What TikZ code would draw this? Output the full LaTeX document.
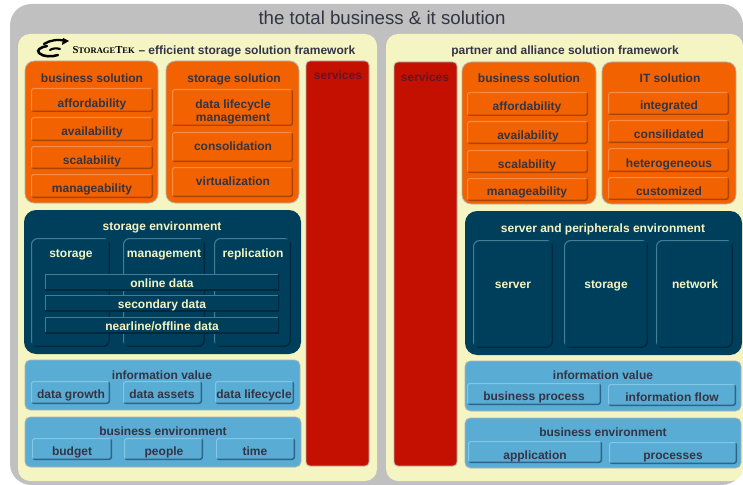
\documentclass[tikz,border=0pt]{standalone}
\usepackage{fontspec}
\setmainfont{Liberation Sans}
\newfontfamily\logofont{Liberation Serif}
\usepackage{tikz}
\definecolor{shellgray}{RGB}{192,192,192}
\definecolor{creamy}{RGB}{245,245,195}
\definecolor{orng}{RGB}{242,98,0}
\definecolor{orngl}{RGB}{250,140,70}
\definecolor{orngd}{RGB}{170,68,0}
\definecolor{crimson}{RGB}{195,16,0}
\definecolor{navy}{RGB}{0,63,92}
\definecolor{navyl}{RGB}{70,125,150}
\definecolor{navyd}{RGB}{0,40,62}
\definecolor{skyb}{RGB}{89,172,211}
\definecolor{skyl}{RGB}{130,200,230}
\definecolor{skyd}{RGB}{45,100,135}
\definecolor{inkdark}{RGB}{52,52,68}
\definecolor{inkred}{RGB}{100,22,40}
\tikzset{every picture/.style={line width=0.75pt}}
\tikzset{
  bevel/.style 2 args={path picture={
    \draw [#1,line width=1.6pt] (path picture bounding box.south west) -- (path picture bounding box.north west) -- (path picture bounding box.north east);
    \draw [#2,line width=2.2pt] (path picture bounding box.north east) -- (path picture bounding box.south east) -- (path picture bounding box.south west);}},
  panel/.style={rounded corners=7pt,draw=black!30,line width=0.6pt},
  orange btn/.style={rounded corners=2pt,fill=orng,bevel={orngl}{orngd}},
  sky btn/.style={rounded corners=2pt,fill=skyb,bevel={skyl}{skyd}},
  navy btn/.style={rounded corners=5pt,fill=navy,bevel={navyl}{navyd}},
  row btn/.style={fill=navy,bevel={navyl}{navyd}},
  dark lbl/.style={font=\fontsize{9}{10}\selectfont\bfseries,text=inkdark,inner sep=0.75pt,align=center,text height=8pt,text depth=1.5pt},
  light lbl/.style={font=\fontsize{9}{10}\selectfont\bfseries,text=creamy,inner sep=0.75pt,align=center,text height=8pt,text depth=1.5pt}
}

\begin{document}
\begin{tikzpicture}[x=0.75pt,y=0.75pt,yscale=-1,xscale=1]
\useasboundingbox (0,0) rectangle (743,485);

%Shape: Outer shell
\fill [shellgray,rounded corners=16pt] (10,4) -- (743,4) -- (743,485) -- (10,485) -- cycle ;
%Shape: Frameworks
\fill [creamy,rounded corners=9pt] (18,34) rectangle (377,481);
\fill [creamy,rounded corners=9pt] (386,34) rectangle (743,481);

%Shape: Logo swoosh
\draw [line width=1.7pt,line cap=round] (44,44) .. controls (50,40) and (58,39) .. (66,41);
\draw [line width=1.9pt,line cap=round] (47,46) .. controls (41,47) and (36,50) .. (39,53) .. controls (43,57) and (52,57) .. (58,55);
\draw [line width=1.6pt,line cap=round] (50,50) .. controls (53,48) and (57,48) .. (60,49);
\fill (63,38) -- (69,41) -- (62,45) -- cycle ;

%Shape: Left orange panels
\draw [panel,fill=orng] (25,61) rectangle (158,203);
\draw [panel,fill=orng] (166,61) rectangle (299,203);
\path [orange btn] (31,88) rectangle (153,112);
\path [orange btn] (31,117) rectangle (153,141);
\path [orange btn] (31,146) rectangle (153,169);
\path [orange btn] (31,174) rectangle (153,198);
\path [orange btn] (172,89) rectangle (293,126);
\path [orange btn] (172,132) rectangle (293,162);
\path [orange btn] (172,167) rectangle (293,197);
%Shape: Left services
\draw [fill=crimson,draw=black!30,rounded corners=3pt,line width=0.6pt] (306,61) rectangle (369,466);
%Shape: Storage environment
\fill [navy,rounded corners=9pt] (24,210) rectangle (301,354);
\path [navy btn] (31,238) rectangle (110,347);
\path [navy btn] (123,238) rectangle (205,347);
\path [navy btn] (214,238) rectangle (291,347);
\path [row btn] (45,274) rectangle (279,290);
\path [row btn] (45,295) rectangle (279,311);
\path [row btn] (45,317) rectangle (279,333);
%Shape: Left blue panels
\draw [panel,rounded corners=4pt,fill=skyb] (25,360) rectangle (300,410);
\path [sky btn] (31,381) rectangle (110,404);
\path [sky btn] (123,381) rectangle (202,404);
\path [sky btn] (215,381) rectangle (294,404);
\draw [panel,rounded corners=4pt,fill=skyb] (25,417) rectangle (301,467);
\path [sky btn] (32,438) rectangle (112,460);
\path [sky btn] (124,438) rectangle (203,460);
\path [sky btn] (216,438) rectangle (295,460);

%Shape: Right services
\draw [fill=crimson,draw=black!30,rounded corners=3pt,line width=0.6pt] (394,62) rectangle (457,466);
%Shape: Right orange panels
\draw [panel,fill=orng] (462,62) rectangle (596,204);
\draw [panel,fill=orng] (602,62) rectangle (736,204);
\path [orange btn] (467,92) rectangle (588,116);
\path [orange btn] (467,121) rectangle (588,144);
\path [orange btn] (467,150) rectangle (588,173);
\path [orange btn] (467,178) rectangle (588,201);
\path [orange btn] (608,92) rectangle (729,115);
\path [orange btn] (608,120) rectangle (729,143);
\path [orange btn] (608,148) rectangle (729,172);
\path [orange btn] (608,177) rectangle (729,200);
%Shape: Server environment
\fill [navy,rounded corners=9pt] (465,211) rectangle (742,355);
\path [navy btn] (473,240) rectangle (553,348);
\path [navy btn] (564,240) rectangle (648,348);
\path [navy btn] (656,240) rectangle (733,348);
%Shape: Right blue panels
\draw [panel,rounded corners=4pt,fill=skyb] (465,361) rectangle (741,411);
\path [sky btn] (467,383) rectangle (601,405);
\path [sky btn] (608,384) rectangle (736,406);
\draw [panel,rounded corners=4pt,fill=skyb] (465,418) rectangle (741,468);
\path [sky btn] (468,441) rectangle (602,463);
\path [sky btn] (609,442) rectangle (737,464);

% Text Node
\draw (382,18) node [font=\fontsize{14}{15}\selectfont,text=inkdark,inner sep=0.75pt] (title) {the total business \& it solution};
% Text Node
\draw (72,50) node [anchor=west,inner sep=0pt,font=\logofont\bfseries\fontsize{8}{8}\selectfont] (logotext) {S{\fontsize{6.4}{7}\selectfont TORAGE}T{\fontsize{6.4}{7}\selectfont EK}};
% Text Node
\draw (137,50) node [anchor=west,dark lbl] (lefthead) {-- efficient storage solution framework};
% Text Node
\draw (565,50) node [dark lbl] (righthead) {partner and alliance solution framework};

% Text Node
\draw (92,78) node [dark lbl] (bsola) {business solution};
\draw (92,103) node [dark lbl] (affa) {affordability};
\draw (92,131) node [dark lbl] (avaa) {availability};
\draw (92,160) node [dark lbl] (scaa) {scalability};
\draw (92,188) node [dark lbl] (mana) {manageability};
% Text Node
\draw (234,78) node [dark lbl] (ssol) {storage solution};
\draw (233,104) node [dark lbl] (dla) {data lifecycle};
\draw (233,117) node [dark lbl] (dlb) {management};
\draw (233,146) node [dark lbl] (cons) {consolidation};
\draw (233,181) node [dark lbl] (virt) {virtualization};
% Text Node
\draw (338,75) node [dark lbl,text=inkred] (srva) {services};
\draw (425,77) node [dark lbl,text=inkred] (srvb) {services};
% Text Node
\draw (162,226) node [light lbl] (senv) {storage environment};
\draw (71,253) node [light lbl] (stoa) {storage};
\draw (164,253) node [light lbl] (mgmt) {management};
\draw (253,253) node [light lbl] (repl) {replication};
\draw (162,283) node [light lbl] (onl) {online data};
\draw (162,304) node [light lbl] (sec) {secondary data};
\draw (162,326) node [light lbl] (nrl) {nearline/offline data};
% Text Node
\draw (162,375) node [dark lbl] (iva) {information value};
\draw (71,394) node [dark lbl] (dgr) {data growth};
\draw (162,394) node [dark lbl] (das) {data assets};
\draw (254,394) node [dark lbl] (dlc) {data lifecycle};
% Text Node
\draw (163,431) node [dark lbl] (bea) {business environment};
\draw (72,451) node [dark lbl] (bud) {budget};
\draw (164,451) node [dark lbl] (peo) {people};
\draw (255,451) node [dark lbl] (tim) {time};
% Text Node
\draw (529,78) node [dark lbl] (bsolb) {business solution};
\draw (527,106) node [dark lbl] (affb) {affordability};
\draw (528,135) node [dark lbl] (avab) {availability};
\draw (527,164) node [dark lbl] (scab) {scalability};
\draw (527,191) node [dark lbl] (manb) {manageability};
% Text Node
\draw (670,78) node [dark lbl] (itsol) {IT solution};
\draw (669,105) node [dark lbl] (integ) {integrated};
\draw (669,134) node [dark lbl] (consi) {consilidated};
\draw (669,163) node [dark lbl] (hete) {heterogeneous};
\draw (669,191) node [dark lbl] (cust) {customized};
% Text Node
\draw (603,228) node [light lbl] (spenv) {server and peripherals environment};
\draw (513,284) node [light lbl] (serv) {server};
\draw (606,284) node [light lbl] (stob) {storage};
\draw (695,284) node [light lbl] (netw) {network};
% Text Node
\draw (603,375) node [dark lbl] (ivb) {information value};
\draw (534,396) node [dark lbl] (bpr) {business process};
\draw (672,397) node [dark lbl] (ifl) {information flow};
% Text Node
\draw (603,432) node [dark lbl] (beb) {business environment};
\draw (535,455) node [dark lbl] (appl) {application};
\draw (673,455) node [dark lbl] (proc) {processes};

\end{tikzpicture}
\end{document}
